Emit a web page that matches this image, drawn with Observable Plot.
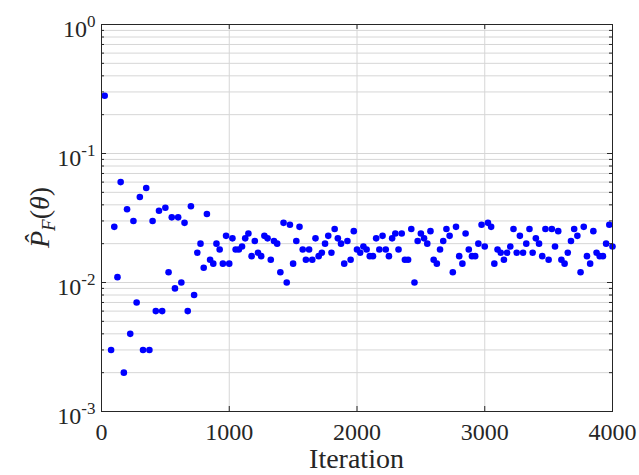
<!DOCTYPE html>
<html><head><meta charset="utf-8">
<script src="https://cdn.jsdelivr.net/npm/d3@7"></script>
<script src="https://cdn.jsdelivr.net/npm/@observablehq/plot@0.6"></script>
<style>
html,body{margin:0;padding:0;background:#fff;}
</style></head><body><div id="chart"></div>
<script>
const iterations = [25,75,100,125,150,175,200,225,250,275,300,325,350,375,400,425,450,475,500,525,550,575,600,625,650,675,700,725,750,775,800,825,850,875,900,925,950,975,1000,1025,1050,1075,1100,1125,1150,1175,1200,1225,1250,1275,1300,1325,1350,1375,1400,1425,1450,1475,1500,1525,1550,1575,1600,1625,1650,1675,1700,1725,1750,1775,1800,1825,1850,1875,1900,1925,1950,1975,2000,2025,2050,2075,2100,2125,2150,2175,2200,2225,2250,2275,2300,2325,2350,2375,2400,2425,2450,2475,2500,2525,2550,2575,2600,2625,2650,2675,2700,2725,2750,2775,2800,2825,2850,2875,2900,2925,2950,2975,3000,3025,3050,3075,3100,3125,3150,3175,3200,3225,3250,3275,3300,3325,3350,3375,3400,3425,3450,3475,3500,3525,3550,3575,3600,3625,3650,3675,3700,3725,3750,3775,3800,3825,3850,3875,3900,3925,3950,3975,4000];
const pfEstimate = [0.28,0.003,0.027,0.011,0.060,0.002,0.037,0.004,0.030,0.007,0.046,0.003,0.054,0.003,0.030,0.006,0.036,0.006,0.038,0.012,0.032,0.009,0.032,0.010,0.029,0.006,0.039,0.008,0.017,0.020,0.013,0.034,0.015,0.014,0.020,0.018,0.014,0.023,0.014,0.022,0.018,0.018,0.019,0.022,0.024,0.016,0.021,0.017,0.016,0.023,0.022,0.015,0.021,0.020,0.012,0.029,0.010,0.028,0.014,0.021,0.027,0.018,0.015,0.018,0.015,0.022,0.016,0.017,0.020,0.023,0.017,0.026,0.022,0.020,0.014,0.021,0.015,0.025,0.018,0.017,0.019,0.018,0.016,0.016,0.022,0.018,0.023,0.018,0.016,0.022,0.024,0.018,0.024,0.015,0.015,0.026,0.010,0.021,0.024,0.022,0.020,0.025,0.015,0.014,0.018,0.021,0.026,0.023,0.012,0.027,0.016,0.014,0.024,0.018,0.016,0.016,0.020,0.028,0.019,0.029,0.027,0.014,0.018,0.017,0.015,0.017,0.019,0.026,0.017,0.023,0.017,0.020,0.026,0.017,0.022,0.020,0.016,0.026,0.015,0.026,0.019,0.025,0.015,0.014,0.017,0.021,0.026,0.023,0.012,0.027,0.016,0.014,0.025,0.017,0.016,0.016,0.020,0.028,0.019];
const xTicks = [0,1000,2000,3000,4000];
const xGrid = [1000,2000,3000];
const yMajor = [1e-3,1e-2,1e-1,1];
const yTickLabels = ["10^-3","10^-2","10^-1","10^0"];
const yMinorFactors = [2,3,4,5,6,7,8,9];
const xLabel = "Iteration";

const data = iterations.map((it,i)=>({iteration: it, pf: pfEstimate[i]}));
const yMinor = yMajor.slice(0,-1).flatMap(d => yMinorFactors.map(f => d*f));
const yAll = yMajor.concat(yMinor);

const font = '"Liberation Serif", "Times New Roman", Times, serif';
const ink = "#262626";
const gridColor = "#d6d6d6";
const W = 639, H = 475, mL = 101, mR = 27, mT = 24, mB = 64;
const fw = W - mL - mR, fh = H - mT - mB;

const chart = Plot.plot({
  width: W, height: H,
  marginLeft: mL, marginRight: mR, marginTop: mT, marginBottom: mB,
  style: {fontFamily: font, fontSize: "24px", color: ink, background: "#fff"},
  x: {domain: [0,4000]},
  y: {type: "log", domain: [1e-3, 1]},
  marks: [
    Plot.ruleY(yAll, {stroke: gridColor, strokeWidth: 1}),
    Plot.ruleX(xGrid, {stroke: gridColor, strokeWidth: 1}),
    Plot.dot(data, {x: "iteration", y: "pf", r: 3.3, fill: "#0000ff", stroke: "none"}),
    Plot.tickY(yMajor, {stroke: ink, insetRight: fw - 5}),
    Plot.tickY(yMinor, {stroke: ink, insetRight: fw - 3}),
    Plot.tickY(yMajor, {stroke: ink, insetLeft: fw - 5}),
    Plot.tickY(yMinor, {stroke: ink, insetLeft: fw - 3}),
    Plot.tickX(xGrid, {stroke: ink, insetTop: fh - 5}),
    Plot.tickX(xGrid, {stroke: ink, insetBottom: fh - 5}),
    Plot.axisX({ticks: xTicks, tickSize: 0, tickPadding: 11, tickFormat: d => String(d), label: null, fontSize: 24}),
    Plot.axisY({ticks: yMajor, tickSize: 0, tickPadding: 6, tickFormat: d => yTickLabels[yMajor.indexOf(d)], label: null, fontSize: 24, dy: 5}),
    Plot.frame({stroke: ink, strokeWidth: 1})
  ]
});
document.getElementById("chart").appendChild(chart);

const svg = d3.select(chart);
svg.selectAll("text").each(function() {
  const t = this.textContent;
  if (t.includes("^")) {
    const [base, exp] = t.split("^");
    const el = d3.select(this);
    el.text(null);
    el.append("tspan").text(base);
    el.append("tspan").attr("dy", -10).attr("font-size", 17).text(exp);
  }
});
const xr = chart.scale("x").range, yr = chart.scale("y").range;
svg.append("text")
  .attr("x", (xr[0] + xr[1]) / 2).attr("y", H - 7)
  .attr("text-anchor", "middle").attr("font-size", 28)
  .attr("fill", ink).text(xLabel);
const yl = svg.append("text")
  .attr("transform", `translate(49,${(yr[0] + yr[1]) / 2}) rotate(-90)`)
  .attr("text-anchor", "middle").attr("font-size", 28)
  .attr("fill", ink);
yl.append("tspan").attr("font-style", "italic").text("P\u0302");
yl.append("tspan").attr("font-style", "italic").attr("font-size", 19).attr("dy", 6).text("F");
yl.append("tspan").attr("dy", -6).text("(");
yl.append("tspan").attr("font-style", "italic").text("\u03B8");
yl.append("tspan").text(")");
svg.selectAll("text").attr("font-family", font).style("font-family", font);
</script></body></html>
